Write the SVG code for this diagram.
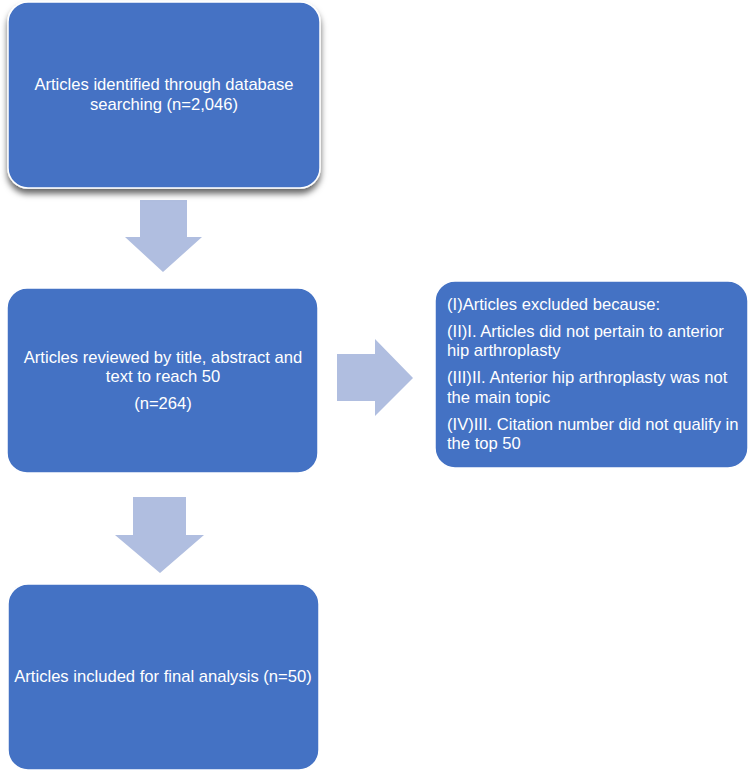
<svg xmlns="http://www.w3.org/2000/svg" width="750" height="772" viewBox="0 0 750 772">
<defs>
<style>
.box{fill:#4472C4;stroke:#ffffff;stroke-width:1.5}
.arr{fill:#B0BEE0}
.t{font-family:"Liberation Sans",Arial,sans-serif;font-size:16.6px;fill:#ffffff}
.c{text-anchor:middle}
</style>
<filter id="sh" x="-10%" y="-10%" width="120%" height="130%">
<feDropShadow dx="0" dy="5" stdDeviation="3" flood-color="#000000" flood-opacity="0.6"/>
</filter>
</defs>
<rect width="750" height="772" fill="#ffffff"/>
<g id="connectors">
<polygon class="arr" points="140,200 187,200 187,237 202,237 163,272 125,237 140,237"/>
<polygon class="arr" points="337,354 375,354 375,339 413,378 375,416 375,401 337,401"/>
<polygon class="arr" points="133,497 186,497 186,535 204,535 160,573 115,535 133,535"/>
</g>
<g id="n1">
<rect class="box" x="8" y="2" width="312" height="186" rx="20" filter="url(#sh)"/>
<text class="t c" x="164" y="90">Articles identified through database</text>
<text class="t c" x="164" y="110">searching (n=2,046)</text>
</g>
<g id="n2">
<rect class="box" x="7" y="288" width="311" height="185" rx="20"/>
<text class="t c" x="163" y="363">Articles reviewed by title, abstract and</text>
<text class="t c" x="163" y="382">text to reach 50</text>
<text class="t c" x="163" y="409">(n=264)</text>
</g>
<g id="n3">
<rect class="box" x="435" y="281" width="313" height="187" rx="20"/>
<text class="t" x="447" y="310">(I)Articles excluded because:</text>
<text class="t" x="447" y="337">(II)I. Articles did not pertain to anterior</text>
<text class="t" x="447" y="356">hip arthroplasty</text>
<text class="t" x="447" y="383">(III)II. Anterior hip arthroplasty was not</text>
<text class="t" x="447" y="403">the main topic</text>
<text class="t" x="447" y="430">(IV)III. Citation number did not qualify in</text>
<text class="t" x="447" y="449">the top 50</text>
</g>
<g id="n4">
<rect class="box" x="8" y="584" width="311" height="186" rx="20"/>
<text class="t c" x="163" y="682">Articles included for final analysis (n=50)</text>
</g>
</svg>
